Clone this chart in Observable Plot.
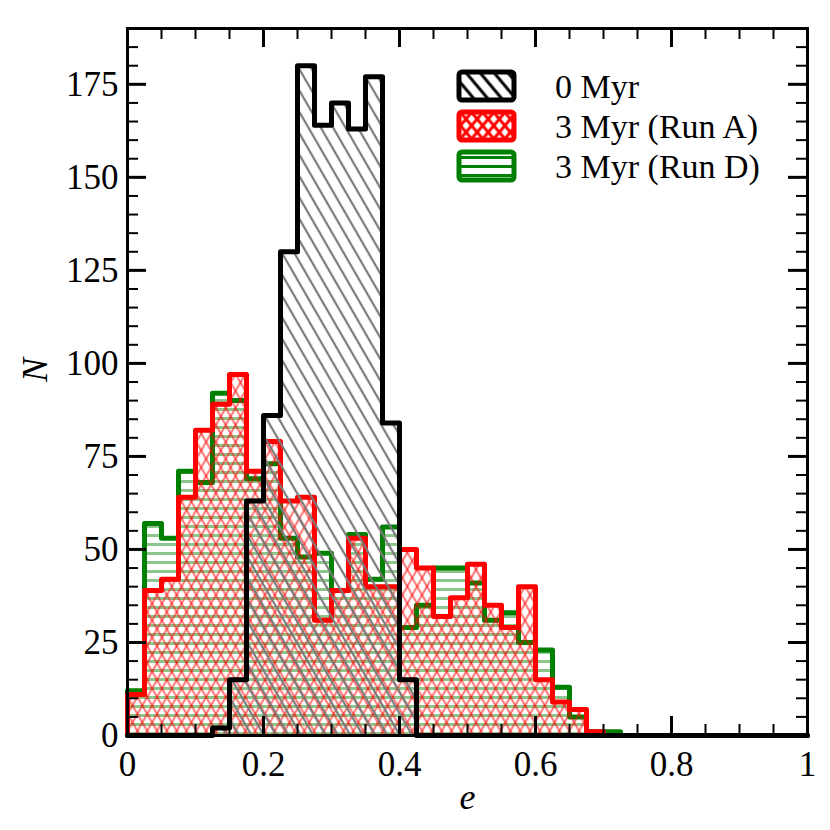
<!DOCTYPE html>
<html><head><meta charset="utf-8">
<script src="https://cdn.jsdelivr.net/npm/d3@7"></script>
<script src="https://cdn.jsdelivr.net/npm/@observablehq/plot@0.6"></script>
<style>
body{margin:0;background:#fff}
#chart{width:830px;height:830px}
</style>
</head><body><div id="chart"></div>
<script>
// Bin lower edges (width 0.025), last entry is the upper edge of the final bin
const binEdges = [0,0.025,0.05,0.075,0.1,0.125,0.15,0.175,0.2,0.225,0.25,0.275,0.3,0.325,0.35,0.375,0.4,0.425,0.45,0.475,0.5,0.525,0.55,0.575,0.6,0.625,0.65,0.675,0.7,0.725,0.75,0.775,0.8,0.825,0.85,0.875,0.9,0.925,0.95,0.975,1];
// Counts per bin
const counts0Myr = [0,0,0,0,0,2,15,63,86,130,180,164,170,163,177,84,15,0,0,0,0,0,0,0,0,0,0,0,0,0,0,0,0,0,0,0,0,0,0,0];
const countsRunA = [11,39,42,64,82,89,97,71,79,63,64,31,39,53,40,40,50,45,32,37,46,35,29,40,15,9,7,1,0,0,0,0,0,0,0,0,0,0,0,0];
const countsRunD = [12,57,53,71,68,92,90,69,73,53,48,49,39,54,42,56,29,35,45,45,41,31,33,25,23,13,5,1,1,0,0,0,0,0,0,0,0,0,0,0];
const seriesNames = ["0 Myr", "3 Myr (Run A)", "3 Myr (Run D)"];
const xMajorTicks = [0,0.2,0.4,0.6,0.8,1];
const xMinorTicks = [0.05,0.1,0.15,0.25,0.3,0.35,0.45,0.5,0.55,0.65,0.7,0.75,0.85,0.9,0.95];
const yMajorTicks = [0,25,50,75,100,125,150,175];
const yMinorTicks = d3.range(5,190,5).filter(v => v % 25 !== 0);

function stepPoints(counts) {
  const n = counts.length;
  const pts = [{x: binEdges[0], y: 0}];
  counts.forEach((c, i) => pts.push({x: binEdges[i], y: c}));
  pts.push({x: binEdges[n], y: counts[n - 1]});
  pts.push({x: binEdges[n], y: 0});
  return pts;
}
const pts0 = stepPoints(counts0Myr), ptsA = stepPoints(countsRunA), ptsD = stepPoints(countsRunD);

const W = 830, H = 830, mL = 127, mR = 23, mT = 28, mB = 95;
const PW = W - mL - mR, PH = H - mT - mB;
const serif = "'Liberation Serif', 'Times New Roman', serif";

const lineOpts = {x: "x", y: "y", curve: "step-after", strokeWidth: 5, strokeLinejoin: "round", strokeLinecap: "round"};

const chart = Plot.plot({
  width: W, height: H,
  marginLeft: mL, marginRight: mR, marginTop: mT, marginBottom: mB,
  x: {domain: [0, 1], label: null},
  y: {domain: [0, 190], label: null},
  style: {fontFamily: serif, fontSize: "35px", background: "white", color: "black"},
  marks: [
    Plot.areaY(ptsD, {x: "x", y: "y", curve: "step-after", fill: "url(#hatchD)"}),
    Plot.lineY(ptsD, {...lineOpts, stroke: "#008000"}),
    Plot.areaY(ptsA, {x: "x", y: "y", curve: "step-after", fill: "url(#hatchA)"}),
    Plot.lineY(ptsA, {...lineOpts, stroke: "#ff0000"}),
    Plot.areaY(pts0, {x: "x", y: "y", curve: "step-after", fill: "url(#hatch0)"}),
    Plot.lineY(pts0, {...lineOpts, stroke: "#000000"}),
    Plot.frame({stroke: "black", strokeWidth: 3}),
    // inward ticks, bottom/top
    Plot.tickX(xMinorTicks, {x: d => d, insetTop: PH - 11, strokeWidth: 2}),
    Plot.tickX(xMinorTicks, {x: d => d, insetBottom: PH - 11, strokeWidth: 2}),
    Plot.tickX(xMajorTicks, {x: d => d, insetTop: PH - 19, strokeWidth: 3}),
    Plot.tickX(xMajorTicks, {x: d => d, insetBottom: PH - 19, strokeWidth: 3}),
    // inward ticks, left/right
    Plot.tickY(yMinorTicks, {y: d => d, insetRight: PW - 11, strokeWidth: 2}),
    Plot.tickY(yMinorTicks, {y: d => d, insetLeft: PW - 11, strokeWidth: 2}),
    Plot.tickY(yMajorTicks, {y: d => d, insetRight: PW - 19, strokeWidth: 3}),
    Plot.tickY(yMajorTicks, {y: d => d, insetLeft: PW - 19, strokeWidth: 3}),
    Plot.axisX(xMajorTicks, {tickSize: 0, tickPadding: 16, label: null, fontSize: 35, tickFormat: d => String(d)}),
    Plot.axisY(yMajorTicks, {tickSize: 0, tickPadding: 9, label: null, fontSize: 35}),
    Plot.text(["N"], {frameAnchor: "left", dx: -92, rotate: -90, fontStyle: "italic", fontSize: 36, text: d => d}),
    Plot.text(["e"], {frameAnchor: "bottom", dy: 73, fontStyle: "italic", fontSize: 36, text: d => d})
  ]
});

const svg = d3.select(chart);
svg.insert("defs", ":first-child").html(`
  <pattern id="hatch0" patternUnits="userSpaceOnUse" width="10.7" height="10.7" patternTransform="rotate(-30)">
    <line x1="0" y1="-2" x2="0" y2="13" stroke="#7a7a7a" stroke-width="2.2"/>
    <line x1="10.7" y1="-2" x2="10.7" y2="13" stroke="#7a7a7a" stroke-width="2.2"/>
  </pattern>
  <pattern id="hatch0L" patternUnits="userSpaceOnUse" width="10.7" height="10.7" patternTransform="rotate(-40)">
    <line x1="0" y1="-2" x2="0" y2="13" stroke="#000" stroke-width="3"/>
    <line x1="10.7" y1="-2" x2="10.7" y2="13" stroke="#000" stroke-width="3"/>
  </pattern>
  <pattern id="hatchA1" patternUnits="userSpaceOnUse" width="8.5" height="8.5" patternTransform="rotate(-30)">
    <line x1="0" y1="-2" x2="0" y2="11" stroke="rgba(255,0,0,0.5)" stroke-width="2.2"/>
    <line x1="8.5" y1="-2" x2="8.5" y2="11" stroke="rgba(255,0,0,0.5)" stroke-width="2.2"/>
  </pattern>
  <pattern id="hatchA2" patternUnits="userSpaceOnUse" width="8.5" height="8.5" patternTransform="rotate(30)">
    <line x1="0" y1="-2" x2="0" y2="11" stroke="rgba(255,0,0,0.5)" stroke-width="2.2"/>
    <line x1="8.5" y1="-2" x2="8.5" y2="11" stroke="rgba(255,0,0,0.5)" stroke-width="2.2"/>
  </pattern>
  <pattern id="hatchA" patternUnits="userSpaceOnUse" width="830" height="830">
    <rect width="830" height="830" fill="url(#hatchA1)"/>
    <rect width="830" height="830" fill="url(#hatchA2)"/>
  </pattern>
  <pattern id="hatchAL1" patternUnits="userSpaceOnUse" width="8.5" height="8.5" patternTransform="rotate(-40)">
    <line x1="0" y1="-2" x2="0" y2="11" stroke="#ff0000" stroke-width="3"/>
    <line x1="8.5" y1="-2" x2="8.5" y2="11" stroke="#ff0000" stroke-width="3"/>
  </pattern>
  <pattern id="hatchAL2" patternUnits="userSpaceOnUse" width="8.5" height="8.5" patternTransform="rotate(40)">
    <line x1="0" y1="-2" x2="0" y2="11" stroke="#ff0000" stroke-width="3"/>
    <line x1="8.5" y1="-2" x2="8.5" y2="11" stroke="#ff0000" stroke-width="3"/>
  </pattern>
  <pattern id="hatchAL" patternUnits="userSpaceOnUse" width="830" height="830">
    <rect width="830" height="830" fill="url(#hatchAL1)"/>
    <rect width="830" height="830" fill="url(#hatchAL2)"/>
  </pattern>
  <pattern id="hatchD" patternUnits="userSpaceOnUse" width="20" height="9">
    <line x1="0" y1="4.5" x2="20" y2="4.5" stroke="rgba(0,128,0,0.45)" stroke-width="3"/>
  </pattern>
  <pattern id="hatchDL" patternUnits="userSpaceOnUse" width="20" height="9">
    <line x1="0" y1="4.5" x2="20" y2="4.5" stroke="#008000" stroke-width="3"/>
  </pattern>
`);

// Legend (drawn on top of the plot, upper right)
const legend = svg.append("g").attr("font-family", serif).attr("font-size", 34).attr("text-anchor", "start");
const legendStroke = ["#000000", "#ff0000", "#008000"];
const legendFill = ["url(#hatch0L)", "url(#hatchAL)", "url(#hatchDL)"];
seriesNames.forEach((name, i) => {
  const y0 = 72 + i * 40;
  legend.append("rect").attr("x", 459).attr("y", y0).attr("width", 55).attr("height", 28)
    .attr("rx", 3).attr("fill", "white").attr("stroke", "none");
  legend.append("rect").attr("x", 459).attr("y", y0).attr("width", 55).attr("height", 28)
    .attr("rx", 3).attr("fill", legendFill[i]).attr("stroke", legendStroke[i]).attr("stroke-width", 5);
  legend.append("text").attr("x", 555).attr("y", y0 + 14).attr("dy", "0.35em")
    .attr("fill", "black").attr("text-anchor", "start").text(name);
});

document.getElementById("chart").appendChild(chart);
</script>
</body></html>
